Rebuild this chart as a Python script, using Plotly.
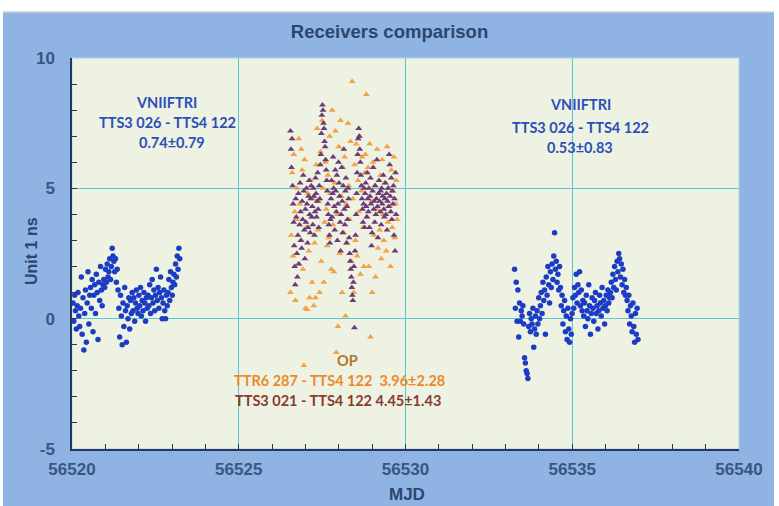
import numpy as np
import plotly.graph_objects as go

# ---- VNIIFTRI, first period: TTS3 026 - TTS4 122 (ns), regular sampling ----
left_start, left_step = 56520.03, 0.025
left_y = [
    0.6, -0.1, 0.9, 0.3, -0.4, 0.5, 1.0, 0.1, -0.3,
    0.4, 1.6, -0.6, 0.8, -1.2, 0.2, 1.1, -0.9, 0.6, 1.8, -0.2, 0.9,
    1.2, 0.4, 1.5, -0.5, 0.9, 1.3, 0.2, 1.7, 1.0, -0.8, 1.4, 0.7, 2.0, 1.1, 0.5, 1.3,
    1.5, 1.2, 1.9, 1.4, 2.1, 1.6, 1.8, 2.3, 1.5, 2.0, 2.7, 2.4,
    2.2, 1.8, 2.3, 1.4, 1.9, 1.1,
    0.4, -0.7, 0.9, 0.1, -1.0, 0.6, -0.3, 1.2, 0.3, -0.9, 0.5, 0.0, 0.8, -0.4, 0.7, 0.2, 1.0,
    0.3, 0.8, -0.1, 0.6, 1.1, 0.4, 0.2, 0.9, 0.5, 1.2, 0.1, 0.7, 0.3, 1.0, 0.6, -0.1, 0.8, 0.4,
    0.9, 0.5, 1.3, 0.2, 0.8, 1.5, 0.6, 1.1, 0.3, 0.9, 1.9, 0.7, 1.2, 0.4, 1.0, 1.6,
    0.8, 0.0, 0.6, 1.1, 0.3, 0.0, 0.9, 0.5,
    1.0, 1.5, 0.7, 1.8, 1.2, 0.9, 1.4,
    1.7, 1.3, 2.1, 1.6, 2.4, 1.9, 2.7, 2.3,
]

# ---- VNIIFTRI, second period ----
right_start, right_step = 56533.27, 0.025
right_y = [
    1.9, 0.4, 1.4, -0.1, 1.1, -0.7,
    0.6, -0.1, 0.3, 0.1, 0.5, -0.2,
    -1.5, -1.7, -2.0, -2.1, -2.3,
    -0.3, 0.2, -0.5, 0.0, -0.2, 0.4, -1.1, -0.4, 0.1, -0.6, 0.3, -0.2, 0.8, 0.0,
    0.5, 1.0, 0.2, 1.4, 0.7, 1.1, -0.6, 1.6, 0.9, 2.0, 1.3, 0.6, 1.8, 1.2,
    2.1, 1.5, 2.4, 3.3, 1.9, 2.2, 1.4, 1.7, 1.1, 2.0,
    1.2, 0.5, 0.9, -0.2, 0.3, 0.7, -0.5, 0.1, -0.8, 0.4, -0.4, -0.9, 0.0, -0.6,
    0.2, 0.8, 0.4, 1.2, 0.9, 1.7, 0.6, 1.3, 1.0, 1.8, 0.5, 1.1, 0.3, 0.7,
    0.1, 0.6, -0.3, 0.9, 0.3, 0.0, 1.3, 0.5, -0.6, 0.2, 0.8, 0.4, -0.1, 0.7, 1.0, 0.2,
    0.5, -0.4, 0.3, 0.9, 0.6, 0.1, 1.2, 0.4, 0.7, -0.2, 0.5, 0.9, 0.3, 1.1, 0.6, 0.8,
    1.0, 1.4, 0.8, 1.7, 1.2, 2.0, 1.5, 1.1, 2.2, 1.8, 2.5, 2.3, 1.6, 2.1, 1.3, 1.9,
    1.0, 1.5, 0.9, 1.2,
    0.7, 0.3, 0.9, -0.2, 0.5, 0.1, -0.5, 0.6, -0.3, -0.9, 0.2, -0.6, 0.4, -0.8,
]

# ---- OP: TTR6 287 - TTS4 122 ----
op_ttr6_start, op_ttr6_step = 56526.55, 0.025
op_ttr6_y = [
    1.0, 3.2, 5.6, 2.4, 6.3, 4.1, 0.7, 3.8, 5.0, 2.1,
    6.9, 4.4, 3.0, 6.5, 5.7, 1.9, -1.8, 6.1, 0.4, 3.5,
    0.35, 4.8, 2.6, 0.8, 5.3, 3.9, 1.4, 4.6, 0.5, 2.9,
    0.8, 5.9, 7.3, 3.4, 4.5, 1.0, 6.4, 2.2, 7.6, 5.0,
    1.4, 3.7, 6.0, 4.2, 2.8, 5.5, 3.1, 7.0, 4.8, 1.9,
    8.0, 3.6, 1.8, 5.2, 7.2, -1.3, 4.0, -0.3, 6.6, 2.5, 7.6, 4.7,
    1.0, 5.8, 3.3, 6.2, 0.1, 4.4, 2.9, 7.5, 5.1, 3.8, 6.8, 2.2,
    9.1, 4.6, 1.0, 5.9, 3.0, 6.7, 2.4, 5.3, 4.1, 7.0, 1.7, 4.9, 6.2, 3.5, 2.0, 5.6,
    6.3, 8.6, 3.9, 5.8, 2.0, 6.7, -0.7, 4.5, 1.0, 6.0, 3.2, 5.1, 1.6, 4.2, 6.5, 2.7,
    4.8, 3.4, 5.5, 2.3, 6.1, 4.0, 3.0, 5.2, 4.6, 2.6, 6.6, 3.7,
    5.0, 4.3, 2.0, 5.7, 3.5, 4.9, 6.2, 3.1, 4.4, 5.3, 3.8,
]

# ---- OP: TTS3 021 - TTS4 122 ----
op_tts3_start, op_tts3_step = 56526.55, 0.016
op_tts3_y = [
    7.2, 6.5, 5.8, 6.9, 5.1, 4.4, 3.7, 2.8, 2.0, 1.3,
    4.6, 3.9, 2.5, 1.6, 3.2, 4.8, 2.1, 3.6, 5.2, 4.1, 3.0, 2.7, 4.5, 3.8, 5.5, 4.9,
    3.4, 2.3, 4.2, 3.7, 5.0, 4.4, 2.9, 3.5, 4.7, 5.3, 4.0, 3.3, 4.6, 5.1, 3.9,
    4.3, 3.6, 5.0, 4.7, 3.2, 4.1, 5.4, 4.8, 3.9, 4.5, 5.6, 4.2, 3.5, 5.1, 4.6, 5.9,
    6.3, 7.1, 7.8, 8.2, 8.0, 7.5, 7.3, 6.8, 6.6, 6.1, 5.7, 5.3, 4.9, 4.4, 4.0, 3.6,
    3.2, 2.9, 3.8,
    4.6, 5.3, 3.9, 4.8, 6.2, 5.0, 4.3, 3.4, 5.7, 4.9, 4.1, 5.5, 3.0, 4.4, 6.0, 5.2,
    4.7, 3.7, 2.6, 4.0, 5.8, 4.5, 3.3, 5.1, 6.5, 4.2, 3.6, 4.9, 5.4, 2.9, 4.3, 3.8,
    5.0, 4.6, 3.1, 2.5, 2.2, 1.9,
    1.6, 1.2, 0.9, 0.7, 1.4, 2.0, -0.35, 2.6,
    3.2, 4.0, 4.8, 5.6, 6.3, 6.9, 7.3, 7.0, 6.5, 6.0, 5.5, 5.1, 4.6, 4.2, 3.7, 4.4,
    5.0, 3.5,
    4.8, 5.2, 4.3, 3.9, 5.6, 4.6, 4.1, 5.0, 3.5, 4.7, 5.4, 4.4, 2.8, 3.3, 4.9, 5.8,
    4.2, 4.5, 3.7, 5.1, 4.0, 4.6, 6.1, 4.3, 3.1, 4.8, 5.3, 4.5, 4.1, 4.9, 3.6, 5.0,
    4.4, 4.7, 5.5, 4.2, 3.9, 4.6, 5.2, 4.0, 4.8, 3.4, 4.5, 5.0, 4.3, 6.3, 5.9, 4.7,
    4.1, 5.4, 3.8, 4.9, 4.4, 5.1, 3.2, 4.6, 2.6, 5.6, 4.0,
]

# axis tick values and their labels
x_ticks = [56520, 56525, 56530, 56535, 56540]
x_tick_text = ["56520", "56525", "56530", "56535", "56540"]
y_ticks = [-5, 0, 5, 10]
y_tick_text = ["-5", "0", "5", "10"]


def mjd_axis(start, step, values):
    """Sampling epochs (MJD) for a regularly sampled series."""
    return start + step * np.arange(len(values))


BLUE = "#1c3cc4"
ORANGE = "#f3a142"
PURPLE = "#6a3b78"
GRID = "#5cc6cf"
NAVY = "#2b4670"
BG_OUT = "#8fb3e2"
BG_IN = "#eef2e2"

fig = go.Figure()
fig.add_trace(go.Scatter(
    x=mjd_axis(left_start, left_step, left_y), y=left_y, mode="markers",
    marker=dict(symbol="circle", size=5.5, color=BLUE), name="VNIIFTRI 1"))
fig.add_trace(go.Scatter(
    x=mjd_axis(right_start, right_step, right_y), y=right_y, mode="markers",
    marker=dict(symbol="circle", size=5.5, color=BLUE), name="VNIIFTRI 2"))
fig.add_trace(go.Scatter(
    x=mjd_axis(op_ttr6_start, op_ttr6_step, op_ttr6_y), y=op_ttr6_y, mode="markers",
    marker=dict(symbol="triangle-up", size=6, color=ORANGE), name="TTR6 287 - TTS4 122"))
fig.add_trace(go.Scatter(
    x=mjd_axis(op_tts3_start, op_tts3_step, op_tts3_y), y=op_tts3_y, mode="markers",
    marker=dict(symbol="triangle-up", size=6, color=PURPLE), name="TTS3 021 - TTS4 122"))

W, H = 779, 506
L, R, T, B = 72, 40, 58, 57
PW, PH = W - L - R, H - T - B


def px(x):
    return (x - L) / PW


def py(y):
    return (H - B - y) / PH


tickfont = dict(family="Liberation Sans, Arial, sans-serif", size=17, color="#3a5683",
                weight="bold")
common_axis = dict(
    showline=True, linecolor="#24365e", linewidth=1.5,
    ticks="inside", ticklen=5, tickcolor="#24365e", tickwidth=1,
    showgrid=True, gridcolor=GRID, gridwidth=1, zeroline=False,
    tickfont=tickfont, tickmode="array",
)
fig.update_xaxes(range=[56520, 56540], tickvals=x_ticks, ticktext=x_tick_text,
                 minor=dict(dtick=1, ticks="inside", ticklen=5, tickcolor="#24365e", showgrid=False),
                 ticklabelstandoff=4, **common_axis)
fig.update_yaxes(range=[-5, 10], tickvals=y_ticks, ticktext=y_tick_text,
                 minor=dict(dtick=1, ticks="inside", ticklen=5, tickcolor="#24365e", showgrid=False),
                 ticklabelstandoff=12, **common_axis)

ann_font = "Lato, Open Sans, sans-serif"
annotations = []


def label(text, x, y, color, size=14.5, family=ann_font):
    annotations.append(dict(
        text=f"<b>{text}</b>", x=px(x), y=py(y), xref="paper", yref="paper",
        showarrow=False, xanchor="center", yanchor="middle",
        font=dict(family=family, size=size, color=color)))


VNI = "#2b4fb8"
label("VNIIFTRI", 166, 102, VNI)
label("TTS3 026 - TTS4 122", 167, 122, VNI)
label("0.74±0.79", 172, 142, VNI)
label("VNIIFTRI", 580, 105, VNI)
label("TTS3 026 - TTS4 122", 580, 127, VNI)
label("0.53±0.83", 580, 147, VNI)
label("OP", 347, 360, "#b3762f")
label("TTR6 287 - TTS4 122  3.96±2.28", 339, 380, "#ea8a2c")
label("TTS3 021 - TTS4 122 4.45±1.43", 338, 400, "#8a3b30")

axis_font = dict(family="Liberation Sans, Arial, sans-serif", size=17, color=NAVY)
annotations.append(dict(text="<b>MJD</b>", x=px(407), y=py(494), xref="paper", yref="paper",
                        showarrow=False, xanchor="center", yanchor="middle", font=axis_font))
annotations.append(dict(text="<b>Unit 1 ns</b>", x=px(32), y=py(251), xref="paper", yref="paper",
                        showarrow=False, xanchor="center", yanchor="middle", textangle=-90,
                        font=dict(family=axis_font["family"], size=16, color=NAVY)))

shapes = [
    # white page edges around the blue panel
    dict(type="rect", xref="paper", yref="paper", x0=-0.2, x1=1.2, y0=py(12), y1=1.3,
         fillcolor="white", line_width=0, layer="above"),
    dict(type="line", xref="paper", yref="paper", x0=px(3), x1=px(774), y0=py(12), y1=py(12),
         line=dict(color="#c9d0d8", width=1.5), layer="above"),
    dict(type="rect", xref="paper", yref="paper", x0=-0.2, x1=px(3), y0=-0.3, y1=1.3,
         fillcolor="white", line_width=0, layer="above"),
    dict(type="rect", xref="paper", yref="paper", x0=px(774), x1=1.2, y0=-0.3, y1=1.3,
         fillcolor="white", line_width=0, layer="above"),
    # light frame of the plotting area
    dict(type="rect", xref="paper", yref="paper", x0=0, x1=1, y0=0, y1=1,
         line=dict(color="#a9dbe0", width=1), fillcolor="rgba(0,0,0,0)", layer="below"),
]

fig.update_layout(
    width=W, height=H,
    margin=dict(l=L, r=R, t=T, b=B),
    paper_bgcolor=BG_OUT, plot_bgcolor=BG_IN,
    showlegend=False,
    title=dict(text="<b>Receivers comparison</b>", x=0.5, xref="container",
               y=1 - 32 / H, yref="container", yanchor="middle", xanchor="center",
               font=dict(family="Liberation Sans, Arial, sans-serif", size=18.5, color=NAVY)),
    annotations=annotations,
    shapes=shapes,
)

fig.write_html("out.html")
